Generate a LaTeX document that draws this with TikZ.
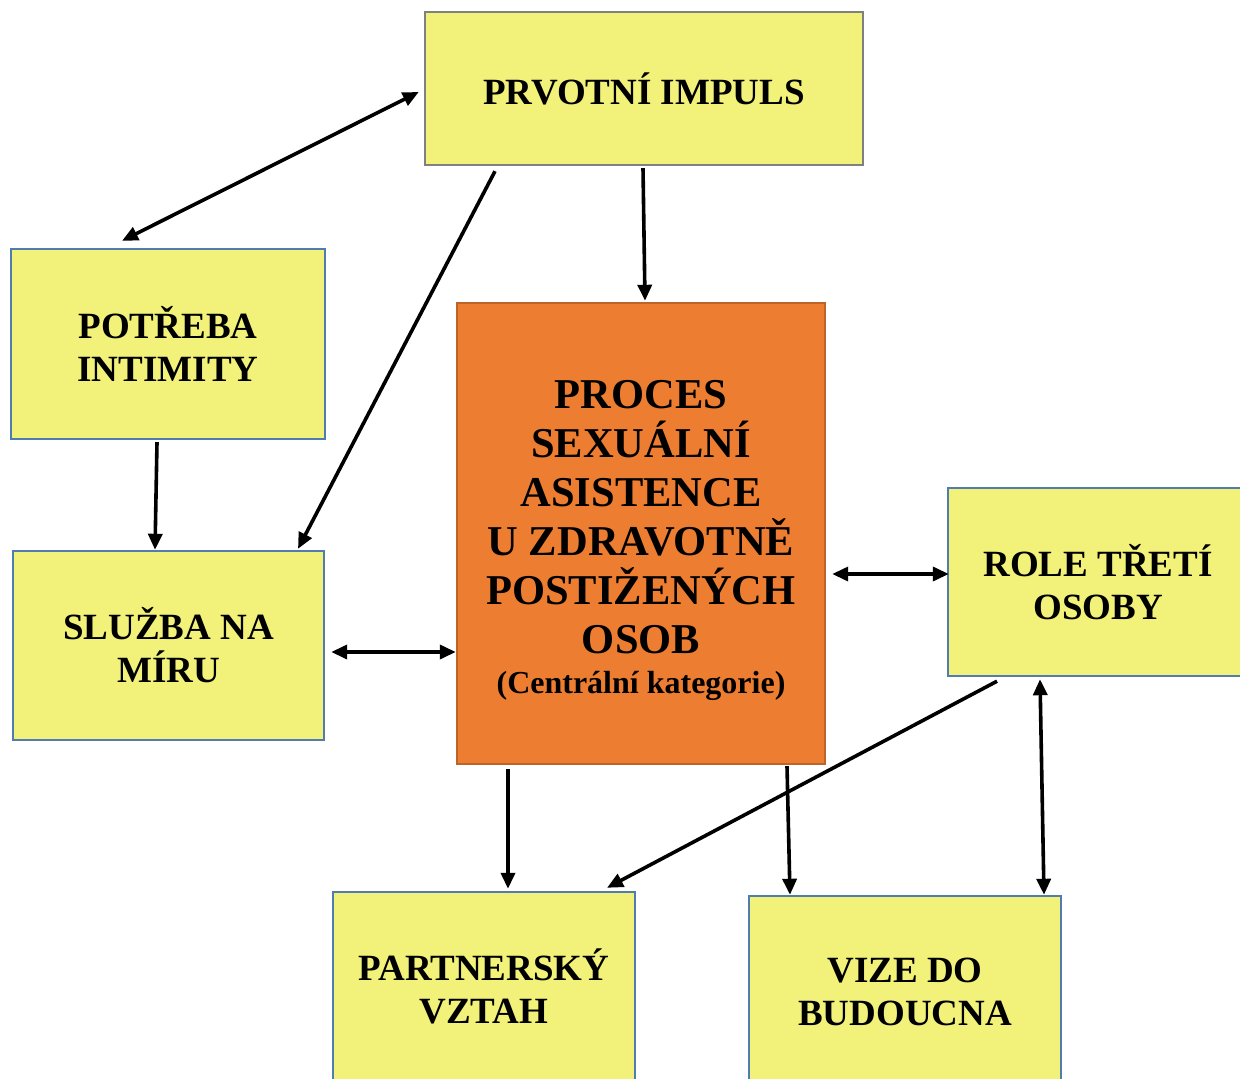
\documentclass[tikz,border=0pt]{standalone}
\usepackage{fontspec}
\setmainfont{Liberation Serif}
\usetikzlibrary{arrows.meta}
\definecolor{boxyellow}{HTML}{F2F27A}
\definecolor{boxorange}{HTML}{ED7D31}
\definecolor{edgeorange}{HTML}{BE6428}
\definecolor{edgeblue}{HTML}{4F7DB0}
\definecolor{edgegray}{HTML}{808080}
\begin{document}
\begin{tikzpicture}[x=1pt,y=-1pt,
  ybox/.style={draw=edgeblue, line width=2.4pt, fill=boxyellow, inner sep=0pt, align=center,
    font=\fontsize{37}{43}\selectfont\bfseries},
  cbox/.style={draw=edgeorange, line width=2.4pt, fill=boxorange, inner sep=0pt},
  bigtxt/.style={align=center, inner sep=0pt, font=\fontsize{42.5}{49}\selectfont\bfseries},
  smalltxt/.style={align=center, inner sep=0pt, font=\fontsize{32}{38}\selectfont\bfseries},
  conn/.style={line width=3.6pt, -{Triangle[length=16pt,width=14pt]}},
  dconn/.style={line width=3.6pt, {Triangle[length=16pt,width=14pt]}-{Triangle[length=16pt,width=14pt]}}
]
\useasboundingbox (0,0) rectangle (1240,1079);
\clip (0,0) rectangle (1240,1079);
\fill[white] (0,0) rectangle (1240,1079);

\node[ybox, draw=edgegray, minimum width=438pt, minimum height=153pt] (prv) at (644,88.5) {PRVOTNÍ IMPULS};
\node[ybox, minimum width=314pt, minimum height=190pt] (pot) at (168,344) {POTŘEBA\\INTIMITY};
\node[ybox, minimum width=311pt, minimum height=189pt] (slu) at (168.5,645.5) {SLUŽBA NA\\MÍRU};
\node[cbox, minimum width=368pt, minimum height=461pt] (proc) at (641,533.5) {};
\node[bigtxt] (proct) at (641,517) {PROCES\\SEXUÁLNÍ\\ASISTENCE\\U ZDRAVOTNĚ\\POSTIŽENÝCH\\OSOB};
\node[smalltxt] (procc) at (641,686) {(Centrální kategorie)};
\node[ybox, minimum width=300pt, minimum height=188pt] (role) at (1098,582) {ROLE TŘETÍ\\OSOBY};
\node[ybox, minimum width=302pt, minimum height=189pt] (par) at (484,986.5) {PARTNERSKÝ\\VZTAH};
\node[ybox, minimum width=312pt, minimum height=192pt] (viz) at (905,992) {VIZE DO\\BUDOUCNA};

% connectors
\draw[dconn] ([xshift=-5pt,yshift=-3.5pt]prv.west) -- ([xshift=-46pt,yshift=7pt]pot.north);
\draw[conn] ([xshift=-149pt,yshift=-5pt]prv.south) -- ([xshift=129.5pt,yshift=1pt]slu.north);
\draw[conn] ([xshift=-1pt,yshift=-2pt]prv.south) -- ([xshift=4pt,yshift=1pt]proc.north);
\draw[conn] ([xshift=-11pt,yshift=-2pt]pot.south) -- ([xshift=-13.5pt]slu.north);
\draw[dconn] ([xshift=6pt,yshift=-6.5pt]slu.east) -- ([yshift=-118.5pt]proc.west);
\draw[dconn] ([xshift=6pt,yshift=-40.5pt]proc.east) -- ([xshift=2pt,yshift=8pt]role.west);
\draw[conn] ([xshift=-133pt,yshift=-4pt]proc.south) -- ([xshift=24pt,yshift=2pt]par.north);
\draw[conn] ([xshift=146pt,yshift=-1pt]proc.south) -- ([xshift=-115pt]viz.north);
\draw[conn] ([xshift=-101pt,yshift=-4pt]role.south) -- ([xshift=123pt,yshift=3pt]par.north);
\draw[dconn] ([xshift=-58pt,yshift=-2pt]role.south) -- ([xshift=139pt]viz.north);
\end{tikzpicture}
\end{document}
